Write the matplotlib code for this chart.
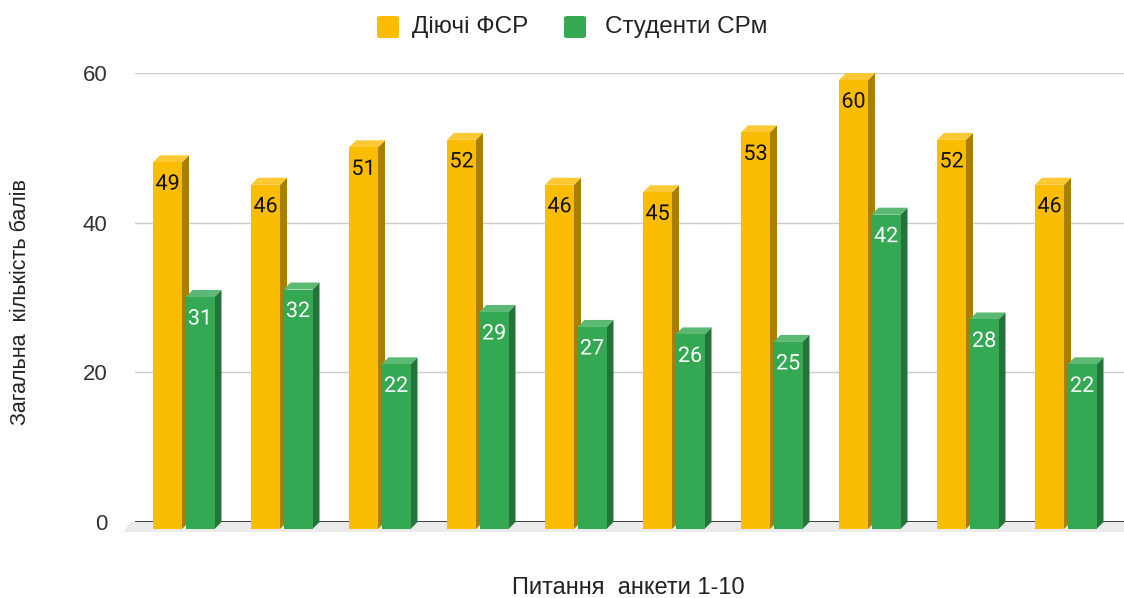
import matplotlib
matplotlib.use('Agg')
import matplotlib.pyplot as plt
import matplotlib.patheffects as pe
from matplotlib.patches import Polygon, Rectangle, FancyBboxPatch

questions = list(range(1, 11))
fsr = [49, 46, 51, 52, 46, 45, 53, 60, 52, 46]
students = [31, 32, 22, 29, 27, 26, 25, 42, 28, 22]
series_names = ['Діючі ФСР', 'Студенти СРм']

yellow = ('#fbbc04', '#fcc934', '#a97f02')
green = ('#34a853', '#5bb974', '#23733a')

plt.rcParams['font.family'] = ['Liberation Sans', 'DejaVu Sans']

W, H = 1124, 598
fig = plt.figure(figsize=(W / 100, H / 100), dpi=100)
ax_l, ax_r, ax_b, ax_t = 135, 1124, 522, 73
ax = fig.add_axes([ax_l / W, 1 - ax_b / H, (ax_r - ax_l) / W, (ax_b - ax_t) / H])

step = 98.0
xlim = ((ax_l - 184) / step, (ax_r - 184) / step)
ax.set_xlim(*xlim)
ax.set_ylim(0, 60)
px_x = step
px_y = (ax_b - ax_t) / 60.0

depth = 7.0
dx = depth / px_x
dy = depth / px_y
w = 29 / px_x
offs = [-16.5 / px_x, 16.0 / px_x]

for s in ax.spines.values():
    s.set_visible(False)
ax.set_yticks([0, 20, 40, 60])
ax.tick_params(axis='y', length=0, pad=20, labelsize=16, labelcolor='#333333')
ax.set_xticks([])
ax.grid(axis='y', color='#cccccc', lw=1)
ax.set_axisbelow(True)

# floor
floor = Polygon([(xlim[0] - 4 / px_x, 0), (xlim[1], 0), (xlim[1], -10 / px_y),
                 (xlim[0] - 12 / px_x, -10 / px_y)],
                closed=True, fc='#ebebeb', ec='none', clip_on=False, zorder=1)
ax.add_patch(floor)
ax.axhline(0, color='#333333', lw=1.3, zorder=1.5)

z = 2
for i in range(len(questions)):
    for k, (vals, cols) in enumerate([(fsr, yellow), (students, green)]):
        v = vals[i]
        x0 = i + offs[k] - w / 2
        x1 = x0 + w
        front, top, side = cols
        ax.add_patch(Polygon([(x1, -dy), (x1 + dx, 0), (x1 + dx, v), (x1, v - dy)],
                             closed=True, fc=side, ec='none', clip_on=False, zorder=z))
        ax.add_patch(Polygon([(x0, v - dy), (x1, v - dy), (x1 + dx, v), (x0 + dx, v)],
                             closed=True, fc=top, ec='none', clip_on=False, zorder=z))
        ax.add_patch(Rectangle((x0, -dy), w, v, fc=front, ec='none', clip_on=False, zorder=z))
        tc = '#111111' if k == 0 else 'white'
        ax.annotate(str(v), (x0 + w / 2, v - dy), xytext=(0, -22 * 0.72), textcoords='offset points',
                    ha='center', va='center', fontsize=15.5, color=tc, family='Roboto', zorder=z + 0.5,
                    path_effects=[pe.withStroke(linewidth=2.5, foreground=front)])
        z += 1

fig.text(21 / W, 1 - 302 / H, 'Загальна  кількість балів', rotation=90, ha='center', va='center',
         fontsize=15.5, color='#222222')
fig.text(628 / W, 1 - 588 / H, 'Питання  анкети 1-10', ha='center', va='center', fontsize=17, color='#222222')

# legend
leg_items = [(377, 412, yellow[0], series_names[0]), (564, 605, green[0], series_names[1])]
for bx, tx, c, name in leg_items:
    fig.patches.append(FancyBboxPatch((bx / W, 1 - 38 / H), 22 / W, 22 / H,
                                      boxstyle='round,pad=0,rounding_size=0.003',
                                      transform=fig.transFigure, fc=c, ec='none'))
    fig.text(tx / W, 1 - 27 / H, name, ha='left', va='center', fontsize=17.5, color='#222222')

fig.savefig('out.png', dpi=100)
